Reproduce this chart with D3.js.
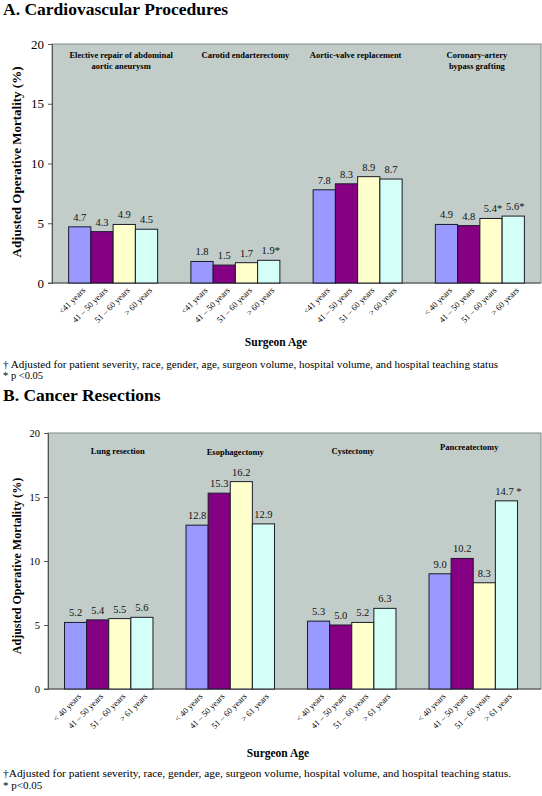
<!DOCTYPE html>
<html><head><meta charset="utf-8">
<script src="https://cdn.jsdelivr.net/npm/d3@7"></script>
<style>
html,body{margin:0;padding:0;background:#fff;}
svg{display:block;}
</style></head>
<body><svg id="c" width="542" height="796"></svg>
<script>
// ---------- DATA ----------
const yTicks = [0, 5, 10, 15, 20];

const categoriesA = [["Elective repair of abdominal", "aortic aneurysm"], ["Carotid endarterectomy"], ["Aortic-valve replacement"], ["Coronary-artery", "bypass grafting"]];
const ageLabelsA = [
  ["<41 years", "41 – 50 years", "51 – 60 years", "> 60 years"],
  ["<41 years", "41 – 50 years", "51 – 60 years", "> 60 years"],
  ["<41 years", "41 – 50 years", "51 – 60 years", "> 60 years"],
  ["< 40 years", "41 – 50 years", "51 – 60 years", "> 60 years"]
];
const valuesA = [[4.7, 4.3, 4.9, 4.5], [1.8, 1.5, 1.7, 1.9], [7.8, 8.3, 8.9, 8.7], [4.9, 4.8, 5.4, 5.6]];
const sigA = [[0, 0, 0, 0], [0, 0, 0, 1], [0, 0, 0, 0], [0, 0, 1, 1]];

const categoriesB = [["Lung resection"], ["Esophagectomy"], ["Cystectomy"], ["Pancreatectomy"]];
const ageLabelsB = [
  ["< 40 years", "41 – 50 years", "51 – 60 years", "> 61 years"],
  ["< 40 years", "41 – 50 years", "51 – 60 years", "> 61 years"],
  ["< 40 years", "41 – 50 years", "51 – 60 years", "> 61 years"],
  ["< 40 years", "41 – 50 years", "51 – 60 years", "> 61 years"]
];
const valuesB = [[5.2, 5.4, 5.5, 5.6], [12.8, 15.3, 16.2, 12.9], [5.3, 5.0, 5.2, 6.3], [9.0, 10.2, 8.3, 14.7]];
const sigB = [[0, 0, 0, 0], [0, 0, 0, 0], [0, 0, 0, 0], [0, 0, 0, 1]];

const barColors = ["#9999FF", "#850083", "#FFFFCC", "#D4FFF6"];

// ---------- DRAW ----------
const svg = d3.select("#c");
const FONT = '"Liberation Serif", "Times New Roman", serif';

function txt(sel) {
  return sel.append("text").style("font-family", FONT).attr("fill", "#000");
}

function panel(o) {
  const g = svg.append("g").style("font-family", FONT);
  txt(g).attr("x", 3).attr("y", o.titleY).attr("font-size", 17.5).attr("font-weight", "bold").text(o.title);

  const y = d3.scaleLinear().domain([0, 20]).range([o.bottom, o.top]);
  const x0 = d3.scaleBand().domain(d3.range(o.values.length)).range(o.bandRange)
    .paddingInner(0.272).paddingOuter(0.136);
  const x1 = d3.scaleBand().domain(d3.range(4)).range([0, x0.bandwidth()]);

  g.append("rect").attr("x", o.left).attr("y", o.top).attr("width", o.right - o.left).attr("height", o.bottom - o.top)
    .attr("fill", "#C2CDC9").attr("stroke", "#7F8A88").attr("stroke-width", 1);

  const ya = d3.axisLeft(y).tickValues(yTicks).tickSize(4).tickPadding(4);
  const yg = g.append("g").attr("transform", `translate(${o.left},0)`).call(ya);
  yg.attr("font-family", null);
  yg.select(".domain").attr("stroke", "#555");
  yg.selectAll(".tick line").attr("stroke", "#555");
  yg.selectAll(".tick text").style("font-family", FONT).attr("font-size", o.tickFont).attr("fill", "#000");

  g.append("line").attr("x1", o.left - 4).attr("x2", o.right).attr("y1", o.bottom).attr("y2", o.bottom)
    .attr("stroke", "#555");

  txt(g).attr("transform", `translate(${o.yTitleX},${o.yTitleY}) rotate(-90)`)
    .attr("text-anchor", "middle").attr("font-size", o.yTitleFont).attr("font-weight", "bold")
    .text("Adjusted Operative Mortality (%)");

  o.values.forEach((vals, gi) => {
    const gx = x0(gi);
    const cx = gx + x0.bandwidth() / 2 + o.catDx[gi];
    const ct = txt(g).attr("text-anchor", "middle").attr("font-size", o.catFont).attr("font-weight", "bold")
      .attr("x", cx).attr("y", o.catY[gi]);
    o.cats[gi].forEach((line, li) => ct.append("tspan").attr("x", cx)
      .attr("dy", li === 0 ? 0 : o.catFont * 1.3).text(line));

    vals.forEach((v, bi) => {
      const bx = gx + x1(bi);
      g.append("rect").attr("x", bx).attr("y", y(v)).attr("width", x1.bandwidth()).attr("height", y(0) - y(v))
        .attr("fill", barColors[bi]).attr("stroke", "#1a1a2a").attr("stroke-width", 1);
      const lbl = d3.format(".1f")(v) + (o.sig[gi][bi] ? o.star : "");
      txt(g).attr("x", bx + x1.bandwidth() / 2 + (o.sig[gi][bi] ? 2 : 0)).attr("y", y(v) - o.valOff)
        .attr("text-anchor", "middle").attr("font-size", o.valFont).attr("fill", "#111").text(lbl);
      const tx = bx + x1.bandwidth() / 2 + 6, ty = o.bottom + 8;
      txt(g).attr("transform", `translate(${tx},${ty}) rotate(-45)`).attr("text-anchor", "end")
        .attr("font-size", o.xFont).text(o.ages[gi][bi]);
    });
  });

  txt(g).attr("x", o.xTitleX).attr("y", o.xTitleY).attr("text-anchor", "middle")
    .attr("font-size", 11.5).attr("font-weight", "bold").text("Surgeon Age");

  txt(g).attr("x", 3).attr("y", o.noteY).attr("font-size", o.noteFont)
    .attr("textLength", o.noteLen).attr("lengthAdjust", "spacingAndGlyphs").text(o.note);
  txt(g).attr("x", 3).attr("y", o.noteY + o.noteGap).attr("font-size", o.noteFont).text(o.pnote);
}

panel({
  title: "A. Cardiovascular Procedures", titleY: 15,
  values: valuesA, sig: sigA, cats: categoriesA, ages: ageLabelsA, star: "*",
  left: 52, right: 541, top: 44, bottom: 283, bandRange: [52, 541],
  tickFont: 13, yTitleX: 21, yTitleY: 162, yTitleFont: 13,
  catFont: 8.5, catY: [58, 58, 58, 58], catDx: [8, 10, -2, -3],
  valFont: 10.5, valOff: 6, xFont: 8.5,
  xTitleX: 276, xTitleY: 346,
  note: "† Adjusted for patient severity, race, gender, age, surgeon volume, hospital volume, and hospital teaching status",
  noteLen: 495, pnote: "* p <0.05", noteY: 368, noteGap: 11, noteFont: 10.5
});

panel({
  title: "B. Cancer Resections", titleY: 401,
  values: valuesB, sig: sigB, cats: categoriesB, ages: ageLabelsB, star: " *",
  left: 48, right: 541, top: 433, bottom: 689, bandRange: [48, 534],
  tickFont: 10.5, yTitleX: 21, yTitleY: 566, yTitleFont: 12,
  catFont: 8.5, catY: [454, 455, 454, 450], catDx: [9, 5, 1, -4],
  valFont: 10.5, valOff: 6, xFont: 8.5,
  xTitleX: 278, xTitleY: 757,
  note: "†Adjusted for patient severity, race, gender, age, surgeon volume, hospital volume, and hospital teaching status.",
  noteLen: 508, pnote: "* p<0.05", noteY: 777, noteGap: 12, noteFont: 11
});
</script></body></html>
